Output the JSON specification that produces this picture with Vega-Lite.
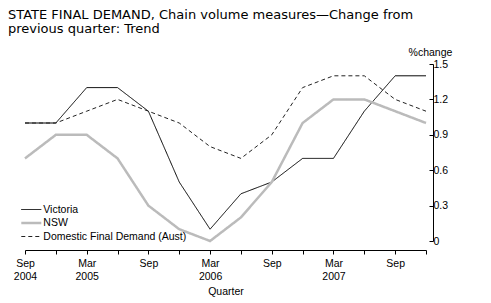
{
  "$schema": "https://vega.github.io/schema/vega-lite/v6.json",
  "autosize": "none",
  "width": 401,
  "height": 177,
  "padding": {"left": 25, "top": 64, "right": 65, "bottom": 62},
  "background": "white",
  "title": {
    "text": ["STATE FINAL DEMAND, Chain volume measures\u2014Change from", "previous quarter: Trend"],
    "anchor": "start",
    "frame": "group",
    "font": "DejaVu Sans",
    "fontSize": 13,
    "fontWeight": "normal",
    "color": "black",
    "lineHeight": 14,
    "dx": -17,
    "offset": 11
  },
  "data": {"values": [
    {"quarter": "Sep 2004", "series": "Victoria", "value": 1.0},
    {"quarter": "Dec 2004", "series": "Victoria", "value": 1.0},
    {"quarter": "Mar 2005", "series": "Victoria", "value": 1.3},
    {"quarter": "Jun 2005", "series": "Victoria", "value": 1.3},
    {"quarter": "Sep 2005", "series": "Victoria", "value": 1.1},
    {"quarter": "Dec 2005", "series": "Victoria", "value": 0.5},
    {"quarter": "Mar 2006", "series": "Victoria", "value": 0.1},
    {"quarter": "Jun 2006", "series": "Victoria", "value": 0.4},
    {"quarter": "Sep 2006", "series": "Victoria", "value": 0.5},
    {"quarter": "Dec 2006", "series": "Victoria", "value": 0.7},
    {"quarter": "Mar 2007", "series": "Victoria", "value": 0.7},
    {"quarter": "Jun 2007", "series": "Victoria", "value": 1.1},
    {"quarter": "Sep 2007", "series": "Victoria", "value": 1.4},
    {"quarter": "Dec 2007", "series": "Victoria", "value": 1.4},
    {"quarter": "Sep 2004", "series": "NSW", "value": 0.7},
    {"quarter": "Dec 2004", "series": "NSW", "value": 0.9},
    {"quarter": "Mar 2005", "series": "NSW", "value": 0.9},
    {"quarter": "Jun 2005", "series": "NSW", "value": 0.7},
    {"quarter": "Sep 2005", "series": "NSW", "value": 0.3},
    {"quarter": "Dec 2005", "series": "NSW", "value": 0.1},
    {"quarter": "Mar 2006", "series": "NSW", "value": 0.0},
    {"quarter": "Jun 2006", "series": "NSW", "value": 0.2},
    {"quarter": "Sep 2006", "series": "NSW", "value": 0.5},
    {"quarter": "Dec 2006", "series": "NSW", "value": 1.0},
    {"quarter": "Mar 2007", "series": "NSW", "value": 1.2},
    {"quarter": "Jun 2007", "series": "NSW", "value": 1.2},
    {"quarter": "Sep 2007", "series": "NSW", "value": 1.1},
    {"quarter": "Dec 2007", "series": "NSW", "value": 1.0},
    {"quarter": "Sep 2004", "series": "Domestic Final Demand (Aust)", "value": 1.0},
    {"quarter": "Dec 2004", "series": "Domestic Final Demand (Aust)", "value": 1.0},
    {"quarter": "Mar 2005", "series": "Domestic Final Demand (Aust)", "value": 1.1},
    {"quarter": "Jun 2005", "series": "Domestic Final Demand (Aust)", "value": 1.2},
    {"quarter": "Sep 2005", "series": "Domestic Final Demand (Aust)", "value": 1.1},
    {"quarter": "Dec 2005", "series": "Domestic Final Demand (Aust)", "value": 1.0},
    {"quarter": "Mar 2006", "series": "Domestic Final Demand (Aust)", "value": 0.8},
    {"quarter": "Jun 2006", "series": "Domestic Final Demand (Aust)", "value": 0.7},
    {"quarter": "Sep 2006", "series": "Domestic Final Demand (Aust)", "value": 0.9},
    {"quarter": "Dec 2006", "series": "Domestic Final Demand (Aust)", "value": 1.3},
    {"quarter": "Mar 2007", "series": "Domestic Final Demand (Aust)", "value": 1.4},
    {"quarter": "Jun 2007", "series": "Domestic Final Demand (Aust)", "value": 1.4},
    {"quarter": "Sep 2007", "series": "Domestic Final Demand (Aust)", "value": 1.2},
    {"quarter": "Dec 2007", "series": "Domestic Final Demand (Aust)", "value": 1.1}
  ]},
  "mark": {"type": "line", "interpolate": "linear"},
  "encoding": {
    "x": {
      "field": "quarter",
      "type": "ordinal",
      "sort": null,
      "scale": {"type": "point", "padding": 0},
      "axis": {
        "title": "Quarter",
        "labelAngle": 0,
        "labelExpr": "datum.value == 'Sep 2004' || substring(datum.value,0,3) == 'Mar' ? split(datum.value, ' ') : substring(datum.value,0,3) == 'Sep' ? 'Sep' : ''",
        "labelLineHeight": 13,
        "labelPadding": 4,
        "offset": 9,
        "tickSize": 4,
        "titlePadding": 5
      }
    },
    "y": {
      "field": "value",
      "type": "quantitative",
      "scale": {"domain": [0, 1.5], "nice": false, "zero": true},
      "axis": {
        "orient": "right",
        "values": [0, 0.3, 0.6, 0.9, 1.2, 1.5],
        "format": "~g",
        "offset": 7,
        "tickSize": -4,
        "labelPadding": 4,
        "title": "%change",
        "titleAngle": 0,
        "titleAlign": "center",
        "titleBaseline": "alphabetic",
        "titleX": -3,
        "titleY": -9
      }
    },
    "color": {
      "field": "series",
      "type": "nominal",
      "scale": {"domain": ["Victoria", "NSW", "Domestic Final Demand (Aust)"], "range": ["#000000", "#bbbbbb", "#222222"]},
      "legend": {
        "orient": "none",
        "legendX": -1.7,
        "legendY": 138,
        "title": null,
        "symbolType": "M-1.5,0H1.5",
        "symbolSize": 178,
        "labelFont": "Liberation Sans Narrow, Arial Narrow, Liberation Sans",
        "labelFontSize": 10.5,
        "labelColor": "black",
        "labelOffset": 4,
        "rowPadding": -1,
        "symbolOpacity": 1
      }
    },
    "strokeWidth": {
      "field": "series",
      "type": "nominal",
      "scale": {"type": "ordinal", "domain": ["Victoria", "NSW", "Domestic Final Demand (Aust)"], "range": [1, 2.5, 1]},
      "legend": null
    },
    "strokeDash": {
      "field": "series",
      "type": "nominal",
      "scale": {"domain": ["Victoria", "NSW", "Domestic Final Demand (Aust)"], "range": [[1, 0], [1, 0], [4, 3]]},
      "legend": null
    }
  },
  "config": {
    "view": {"stroke": null},
    "axis": {
      "grid": false,
      "domainColor": "black",
      "tickColor": "black",
      "labelColor": "black",
      "titleColor": "black",
      "labelFont": "Liberation Sans Narrow, Arial Narrow, Liberation Sans",
      "titleFont": "Liberation Sans Narrow, Arial Narrow, Liberation Sans",
      "labelFontSize": 10.5,
      "titleFontSize": 10.5,
      "titleFontWeight": "normal",
      "domainWidth": 1,
      "tickWidth": 1
    }
  }
}
